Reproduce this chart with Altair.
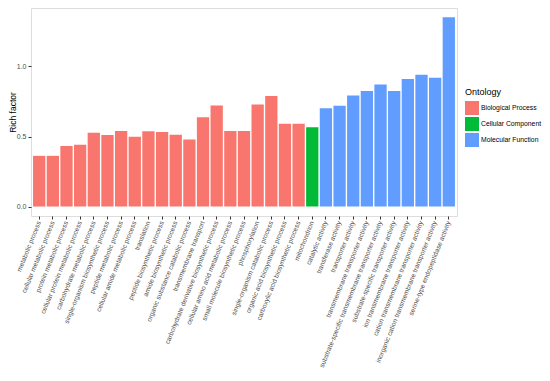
import altair as alt
import pandas as pd

terms = [
    "metabolic process", "cellular metabolic process", "protein metabolic process",
    "cellular protein metabolic process", "carbohydrate metabolic process",
    "single-organism biosynthetic process", "peptide metabolic process",
    "cellular amide metabolic process", "translation", "peptide biosynthetic process",
    "amide biosynthetic process", "organic substance catabolic process",
    "transmembrane transport", "carbohydrate derivative biosynthetic process",
    "cellular amino acid metabolic process", "small molecule biosynthetic process",
    "phosphorylation", "single-organism catabolic process",
    "organic acid biosynthetic process", "carboxylic acid biosynthetic process",
    "mitochondrion",
    "catalytic activity", "transferase activity", "transporter activity",
    "transmembrane transporter activity",
    "substrate-specific transmembrane transporter activity",
    "substrate-specific transporter activity", "ion transmembrane transporter activity",
    "cation transmembrane transporter activity",
    "inorganic cation transmembrane transporter activity",
    "serine-type endopeptidase activity",
]
rich = [
    0.362, 0.362, 0.433, 0.442, 0.527, 0.511, 0.539, 0.499, 0.537, 0.532,
    0.513, 0.478, 0.638, 0.721, 0.539, 0.539, 0.728, 0.790, 0.591, 0.591,
    0.567,
    0.702, 0.719, 0.792, 0.825, 0.872, 0.825, 0.910, 0.941, 0.920, 1.352,
]
ontology = ["Biological Process"] * 20 + ["Cellular Component"] + ["Molecular Function"] * 10

onto_names = ["Biological Process", "Cellular Component", "Molecular Function"]
onto_colors = ["#F8766D", "#00BA38", "#619CFF"]

df = pd.DataFrame({"term": terms, "rich": rich, "ontology": ontology})

font = "Liberation Sans"

chart = alt.Chart(df).mark_bar().encode(
    x=alt.X("term:N", sort=terms, title=None,
            scale=alt.Scale(paddingInner=0.1, paddingOuter=0.15),
            axis=alt.Axis(labelAngle=-68, labelAlign="right", labelBaseline="middle",
                          labelFontSize=6.7, labelColor="#4d4d4d", labelFont=font,
                          tickColor="#333333", tickSize=3, labelPadding=2,
                          domain=False, labelOverlap=False, labelLimit=300)),
    y=alt.Y("rich:Q", title="Rich factor",
            scale=alt.Scale(domain=[-0.0675, 1.4175], nice=False, zero=False),
            axis=alt.Axis(values=[0, 0.5, 1.0], format=".1f", grid=False, domain=False,
                          labelFontSize=7, labelColor="#4d4d4d", labelFont=font,
                          tickColor="#333333", tickSize=3, labelPadding=2,
                          titleFont=font, titleFontSize=8.5, titleFontWeight="normal",
                          titleColor="black", titleX=-19, titleY=104, titleAngle=270,
                          titleAlign="center", titleBaseline="middle")),
    y2=alt.datum(0),
    color=alt.Color("ontology:N", title="Ontology",
                    scale=alt.Scale(domain=onto_names, range=onto_colors),
                    legend=alt.Legend(orient="none", legendX=434, legendY=80,
                                      symbolType="square", symbolSize=196,
                                      symbolStrokeWidth=0, symbolOpacity=1,
                                      titleFont=font, titleFontSize=9,
                                      titleFontWeight="normal", titleColor="black",
                                      labelFont=font, labelFontSize=6.8,
                                      labelColor="black", rowPadding=2,
                                      labelOffset=2, labelLimit=200,
                                      titlePadding=4)),
).properties(
    width=426, height=208,
    autosize=alt.AutoSizeParams(type="none"),
    padding={"left": 23, "top": 0, "right": 85, "bottom": 156},
).configure_view(
    stroke="#888888", strokeWidth=1
).configure(background="white")

chart.save("out.html", embed_options={"renderer": "svg", "actions": False})
